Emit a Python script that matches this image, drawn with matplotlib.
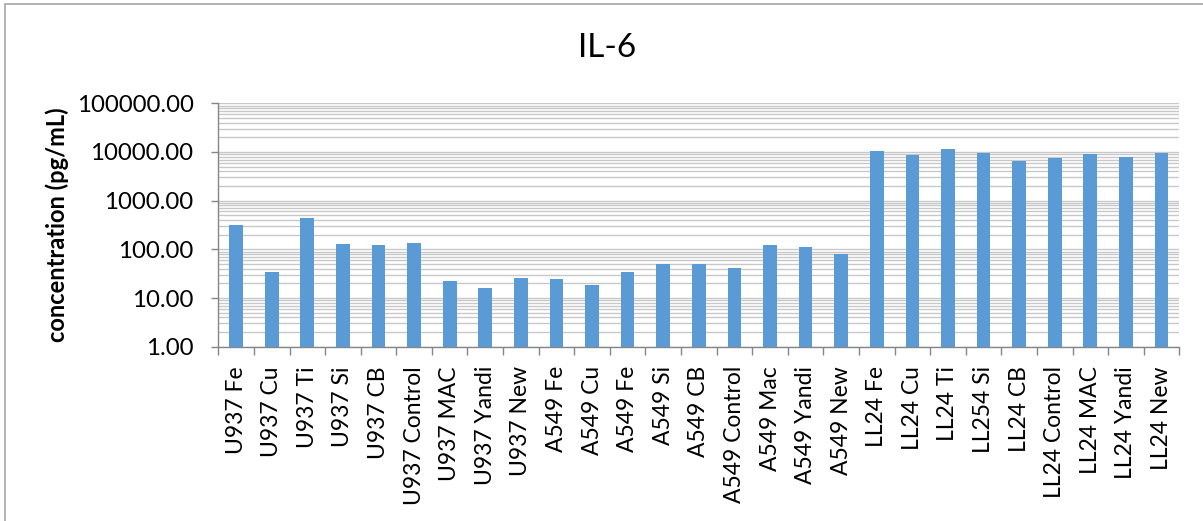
import matplotlib
matplotlib.use("Agg")
import matplotlib.pyplot as plt
from matplotlib.patches import Rectangle
from matplotlib.ticker import LogLocator, FixedLocator, NullFormatter, FuncFormatter

plt.rcParams['font.family'] = ['Lato', 'DejaVu Sans']

categories = [
    "U937 Fe", "U937 Cu", "U937 Ti", "U937 Si", "U937 CB", "U937 Control",
    "U937 MAC", "U937 Yandi", "U937 New",
    "A549 Fe", "A549 Cu", "A549 Fe", "A549 Si", "A549 CB", "A549 Control",
    "A549 Mac", "A549 Yandi", "A549 New",
    "LL24 Fe", "LL24 Cu", "LL24 Ti", "LL254 Si", "LL24 CB", "LL24 Control",
    "LL24 MAC", "LL24 Yandi", "LL24 New",
]
il6_values = [
    316, 34.8, 435, 127, 125, 135, 22.7, 15.8, 26.2,
    24.6, 18.8, 34.3, 49.3, 49.3, 41.4, 125, 112, 79,
    10350, 8810, 11380, 9680, 6630, 7530, 9100, 8020, 9680,
]
title = "IL-6"
y_label = "concentration (pg/mL)"

bar_color = "#5B9BD5"
grid_color = "#C8C8C8"
axis_color = "#868686"

fig = plt.figure(figsize=(12.03, 5.21), dpi=100)
ax = fig.add_axes([0.1815, 0.3345, 0.7988, 0.4672])

x = list(range(len(categories)))
ax.bar(x, il6_values, width=0.385, color=bar_color, zorder=3, bottom=0)

ax.set_yscale("log")
ax.set_ylim(1, 100000)
ax.set_xlim(-0.5, len(categories) - 0.5)

ax.yaxis.set_major_locator(LogLocator(base=10, numticks=10))
ax.yaxis.set_minor_locator(LogLocator(base=10, subs=range(2, 10), numticks=20))
ax.yaxis.set_minor_formatter(NullFormatter())
ax.yaxis.set_major_formatter(FuncFormatter(lambda v, p: f"{v:.2f}"))

ax.grid(True, which="both", axis="y", color=grid_color, linewidth=1.0, zorder=0)

ax.set_xticks(x)
ax.set_xticklabels(categories, rotation=90, fontsize=16.5, va="top", ha="center")
ax.xaxis.set_minor_locator(FixedLocator([i - 0.5 for i in range(len(categories) + 1)]))
ax.tick_params(axis="x", which="major", length=0, pad=14)
ax.tick_params(axis="x", which="minor", length=6, width=1, color=axis_color)
ax.tick_params(axis="y", which="major", length=5.4, width=1, color=axis_color,
               labelsize=17.3, pad=12.5)
ax.tick_params(axis="y", which="minor", length=0)

for side in ("top", "right"):
    ax.spines[side].set_visible(False)
for side in ("left", "bottom"):
    ax.spines[side].set_color(axis_color)
    ax.spines[side].set_linewidth(1)

ax.set_ylabel(y_label, fontsize=17, fontweight="bold")
ax.yaxis.set_label_coords(-0.168, 0.5)
ax.yaxis.label.set_va("center")

fig.text(0.505, 1 - 48 / 521, title, fontsize=24, ha="center", va="center")

# outer chart frame
fig.patches.append(Rectangle((5 / 1203, -0.1), 1.2, (521 - 4) / 521 + 0.1,
                             transform=fig.transFigure, fill=False,
                             edgecolor="#A6A6A6", linewidth=1.2))

fig.savefig("out.png", dpi=100)
